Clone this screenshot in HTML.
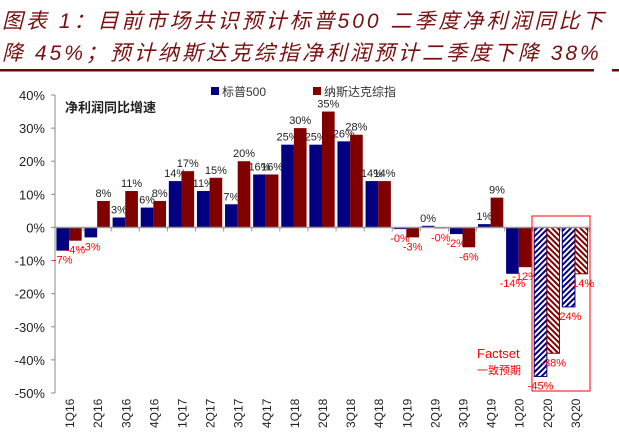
<!DOCTYPE html>
<html><head><meta charset="utf-8">
<style>
body{margin:0;background:#fff;width:619px;height:439px;overflow:hidden}
svg{display:block;font-family:"Liberation Sans","Noto Sans CJK SC",sans-serif}
</style></head><body>
<svg id="chart" width="619" height="439" viewBox="0 0 619 439">
<defs>
<pattern id="hb" width="4" height="4" patternUnits="userSpaceOnUse" patternTransform="rotate(45)"><rect width="4" height="4" fill="#fff"/><rect width="2" height="4" fill="#000080"/></pattern>
<pattern id="hr" width="4" height="4" patternUnits="userSpaceOnUse" patternTransform="rotate(-45)"><rect width="4" height="4" fill="#fff"/><rect width="2" height="4" fill="#800000"/></pattern>
</defs>
<g fill="#7a1010" font-style="italic" font-size="21" letter-spacing="3">
<text x="2" y="28">图表 1：目前市场共识预计标普500 二季度净利润同比下</text>
<text x="2" y="60">降 45%；预计纳斯达克综指净利润预计二季度下降 38%</text>
</g>
<rect x="0" y="69" width="594" height="2.5" fill="#6b0a0a"/>
<rect x="612" y="69" width="7" height="2.5" fill="#6b0a0a"/>
<text x="65" y="112" font-size="13" font-weight="bold" fill="#222">净利润同比增速</text>
<g font-size="12" fill="#333">
<rect x="211" y="87" width="8" height="8" fill="#000080"/>
<text x="222" y="96">标普500</text>
<rect x="313" y="87" width="8" height="8" fill="#800000"/>
<text x="324" y="96">纳斯达克综指</text>
</g>
<g id="plot"></g>
<rect x="532" y="216" width="58" height="175" fill="none" stroke="#ff0000" stroke-width="1"/>
<text x="477" y="358" font-size="13" fill="#ff0000">Factset</text>
<text x="477" y="374" font-size="11" fill="#ff0000">一致预期</text>
</svg>
<script>
const categories=["1Q16","2Q16","3Q16","4Q16","1Q17","2Q17","3Q17","4Q17","1Q18","2Q18","3Q18","4Q18","1Q19","2Q19","3Q19","4Q19","1Q20","2Q20","3Q20"];
const sp500=[-7,-3,3,6,14,11,7,16,25,25,26,14,-0.5,0.5,-2,1,-14,-45,-24];
const nasdaq=[-4,8,11,8,17,15,20,16,30,35,28,14,-3,-0.3,-6,9,-12,-38,-14];
const spLabels=["-7%","-3%","3%","6%","14%","11%","7%","16%","25%","25%","26%","14%","-0%","0%","-2%","1%","-14%","-45%","-24%"];
const ndLabels=["-4%","8%","11%","8%","17%","15%","20%","16%","30%","35%","28%","14%","-3%","-0%","-6%","9%","-12%","-38%","-14%"];
const yTicks=[40,30,20,10,0,-10,-20,-30,-40,-50];
const forecastFrom=17;
const NS="http://www.w3.org/2000/svg";
const g=document.getElementById('plot');
const x0=55,x1=589,yTop=95,yBot=393,vMax=40,vMin=-50;
const step=(x1-x0)/categories.length;
function y(v){return yTop+(vMax-v)/(vMax-vMin)*(yBot-yTop);}
function xg(i){return x0+i*step;}
function el(t,a){const e=document.createElementNS(NS,t);for(const k in a)e.setAttribute(k,a[k]);g.appendChild(e);return e;}
let ax=el('line',{x1:x0,y1:yTop,x2:x0,y2:yBot,stroke:'#888'});


yTicks.forEach(v=>{
 const t=el('line',{x1:x0-4,y1:y(v),x2:x0,y2:y(v),stroke:'#888'});
 
 
 const l=el('text',{x:x0-10,y:y(v)+5,'text-anchor':'end','font-size':13,fill:'#222'});
 l.textContent=v+'%';
 
 
});
const bw=step*0.45;
categories.forEach((c,i)=>{
 const gx=xg(i);
 const fc=i>=forecastFrom;
 [[sp500[i],spLabels[i],'#000080','url(#hb)',gx+step*0.05,'sp500'],[nasdaq[i],ndLabels[i],'#800000','url(#hr)',gx+step*0.5,'nasdaq']].forEach(([v,lab,col,pat,bx,nm])=>{
  const top=Math.min(y(v),y(0)),h=Math.max(Math.abs(y(v)-y(0)),1);
  const r=el('rect',{x:bx,y:top,width:bw,height:h,fill:fc?pat:col,stroke:fc?col:'none','stroke-width':1});
  
  
  const neg=v<0;
  const t=el('text',{x:bx+bw/2,y:neg?y(v)+13:y(v)-4,'text-anchor':'middle','font-size':11,fill:neg?'#ff0000':'#222'});
  t.textContent=lab;
  
  
 });
 const lx=gx+step/2;
 const xl=el('text',{x:0,y:0,transform:`translate(${lx+5},428) rotate(-90)`,'font-size':12,fill:'#222'});
 xl.textContent=c;
 
 
});
const za=el('line',{x1:x0,y1:y(0),x2:x1,y2:y(0),stroke:'#999','stroke-width':1.5});


for(let i=0;i<=categories.length;i++){
 const t=el('line',{x1:xg(i),y1:y(0),x2:xg(i),y2:y(0)+4,stroke:'#999'});
 
 
}
</script>
</body></html>
